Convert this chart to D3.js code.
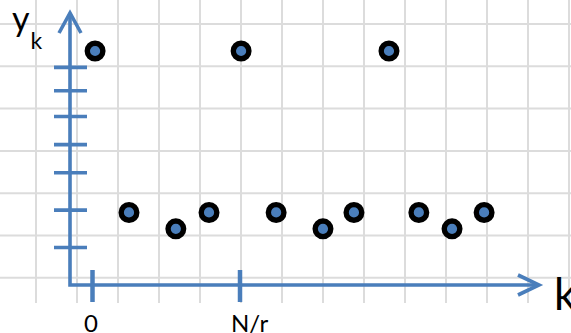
<!DOCTYPE html>
<html>
<head>
<meta charset="utf-8">
<script src="https://cdn.jsdelivr.net/npm/d3@7"></script>
<style>
  html, body { margin: 0; padding: 0; background: #fff; }
  svg { display: block; }
  text { font-family: Lato, "Open Sans", sans-serif; fill: #000; }
</style>
</head>
<body>
<svg id="chart" width="571" height="333"></svg>
<script>
// ---- data ----
const kValues = [0.07, 0.99, 2.26, 3.16, 4.03, 4.98, 6.25, 7.09, 8.04, 8.85, 9.75, 10.62];
const yValues = [1.0, 0.31, 0.24, 0.31, 1.0, 0.31, 0.24, 0.31, 1.0, 0.31, 0.24, 0.31];
const yTickValues = [0.93, 0.83, 0.72, 0.60, 0.48, 0.32, 0.16];
const xTickValues = [0, 4];
const xTickLabels = ["0", "N/r"];
const xAxisLabel = "k";
const yAxisLabel = "y";
const yAxisSub = "k";

// ---- layout ----
const svg = d3.select("#chart");
const W = 571, H = 333;
const blue = "#4a7ebb";

const x = d3.scaleLinear().domain([0, 4]).range([92.5, 240]);
const y = d3.scaleLinear().domain([0, 1]).range([285, 51]);

// background grid
const grid = svg.append("g").attr("stroke", "#dcdcdc").attr("stroke-width", 2);
d3.range(36, W + 1, 41).forEach(gx => {
  grid.append("line").attr("x1", gx).attr("x2", gx).attr("y1", 0).attr("y2", 303);
});
d3.range(24, 300, 42.3).forEach(gy => {
  grid.append("line").attr("x1", 0).attr("x2", W).attr("y1", gy).attr("y2", gy);
});

// axes
const ax = svg.append("g").attr("stroke", blue).attr("fill", "none").attr("stroke-width", 3.6);
const x0 = 70, yTop = 13, xRight = 539;
ax.append("path").attr("d", `M${x0},${yTop} L${x0},${y(0)} L${xRight},${y(0)}`)
  .attr("stroke-linejoin", "miter");
// y arrow head
ax.append("path").attr("d", `M${x0 - 11},${yTop + 20} L${x0},${yTop} L${x0 + 11},${yTop + 20}`)
  .attr("stroke-linejoin", "miter");
// x arrow head
ax.append("path").attr("d", `M${xRight - 21},${y(0) - 10} L${xRight},${y(0)} L${xRight - 21},${y(0) + 10}`)
  .attr("stroke-linejoin", "miter");

// y ticks
ax.selectAll(".yt").data(yTickValues).enter().append("line")
  .attr("x1", 54).attr("x2", 87)
  .attr("y1", d => y(d)).attr("y2", d => y(d));

// x ticks
ax.selectAll(".xt").data(xTickValues).enter().append("line")
  .attr("x1", d => x(d)).attr("x2", d => x(d))
  .attr("y1", 270).attr("y2", 302).attr("stroke-width", 4.5);

// x tick labels
svg.selectAll(".xl").data(xTickValues).enter().append("text")
  .attr("x", (d, i) => i === 0 ? x(d) - 1.5 : x(d) - 9)
  .attr("y", 332)
  .attr("font-size", 24)
  .attr("text-anchor", (d, i) => i === 0 ? "middle" : "start")
  .text((d, i) => xTickLabels[i]);

// axis labels
svg.append("text").attr("x", 554).attr("y", 310).attr("font-size", 44).text(xAxisLabel);
svg.append("text").attr("x", 12).attr("y", 31).attr("font-size", 34).text(yAxisLabel);
svg.append("text").attr("x", 30.5).attr("y", 49).attr("font-size", 23).text(yAxisSub);

// points
svg.append("g").selectAll("circle").data(kValues).enter().append("circle")
  .attr("cx", d => x(d))
  .attr("cy", (d, i) => y(yValues[i]))
  .attr("r", 7.8)
  .attr("fill", blue)
  .attr("stroke", "#000")
  .attr("stroke-width", 5.4);
</script>
</body>
</html>
